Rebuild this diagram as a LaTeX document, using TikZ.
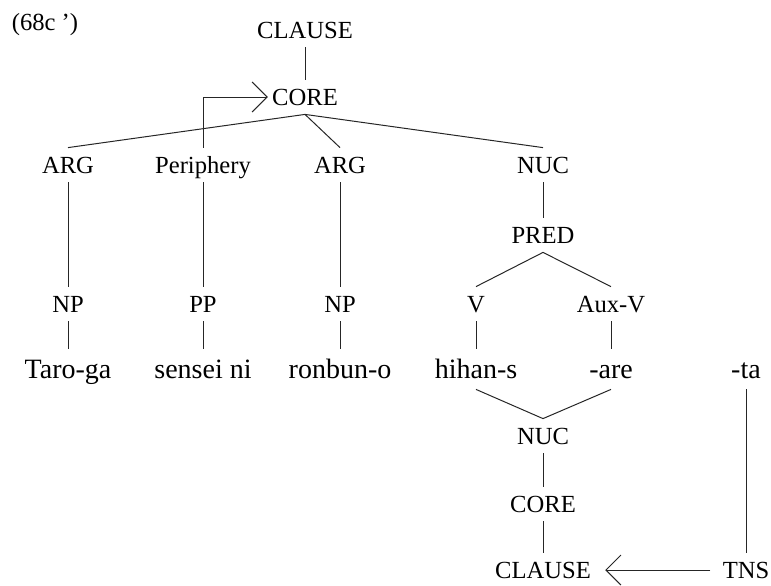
\documentclass[tikz,border=0pt]{standalone}
\usepackage{fontspec}
\setmainfont{Liberation Serif}
\usetikzlibrary{arrows.meta}
\tikzset{
    lbl/.style={font=\fontsize{12.3}{14}\selectfont, text height=8pt, text depth=0pt, inner ysep=4.5pt, inner xsep=2pt},
    word/.style={font=\fontsize{14}{16}\selectfont, text height=9pt, text depth=0pt, inner ysep=5.5pt, inner xsep=2pt},
    edge/.style={line width=0.5pt, black!85},
    arr/.style={edge, -{Straight Barb[length=7.5pt, width=15pt]}}
}
\begin{document}
\begin{tikzpicture}[x=0.5pt, y=-0.5pt]
    \useasboundingbox (0,0) rectangle (771,585);
    \node[lbl] (ex) at (45,22) {(68c\ ’)};
    \node[lbl] (clause) at (305,30) {CLAUSE};
    \node[lbl] (core) at (305,97) {CORE};
    \node[lbl] (arga) at (68,165) {ARG};
    \node[lbl] (peri) at (203,165) {Periphery};
    \node[lbl] (argb) at (340,165) {ARG};
    \node[lbl] (nuc) at (543,165) {NUC};
    \node[lbl] (pred) at (543,235) {PRED};
    \node[lbl] (npa) at (68,304) {NP};
    \node[lbl] (pp) at (203,304) {PP};
    \node[lbl] (npb) at (340,304) {NP};
    \node[lbl] (v) at (476,304) {V};
    \node[lbl] (auxv) at (611,304) {Aux-V};
    \node[word] (taro) at (68,369) {Taro-ga};
    \node[word] (sensei) at (203,369) {sensei ni};
    \node[word] (ronbun) at (340,369) {ronbun-o};
    \node[word] (hihan) at (476,369) {hihan-s};
    \node[word] (are) at (611,369) {-are};
    \node[word] (ta) at (746,369) {-ta};
    \node[lbl] (nucb) at (543,436) {NUC};
    \node[lbl] (coreb) at (543,504) {CORE};
    \node[lbl] (clauseb) at (543,570) {CLAUSE};
    \node[lbl] (tns) at (746,570) {TNS};
    \draw[edge] (clause) -- (core);
    \draw[edge] (core.south) -- (arga.north);
    \draw[edge] (core.south) -- (argb.north);
    \draw[edge] (core.south) -- (nuc.north);
    \draw[arr] (peri.north) |- (core.west);
    \draw[edge] (arga) -- (npa);
    \draw[edge] (peri) -- (pp);
    \draw[edge] (argb) -- (npb);
    \draw[edge] (nuc) -- (pred);
    \draw[edge] (pred.south) -- (v.north);
    \draw[edge] (pred.south) -- (auxv.north);
    \draw[edge] (npa) -- (taro);
    \draw[edge] (pp) -- (sensei);
    \draw[edge] (npb) -- (ronbun);
    \draw[edge] (v) -- (hihan);
    \draw[edge] (auxv) -- (are);
    \draw[edge] (hihan.south) -- (nucb.north);
    \draw[edge] (are.south) -- (nucb.north);
    \draw[edge] (nucb) -- (coreb);
    \draw[edge] (coreb) -- (clauseb);
    \draw[edge] (ta) -- (tns);
    \draw[arr, shorten <=4pt, shorten >=5pt] (tns) -- (clauseb);
\end{tikzpicture}
\end{document}
